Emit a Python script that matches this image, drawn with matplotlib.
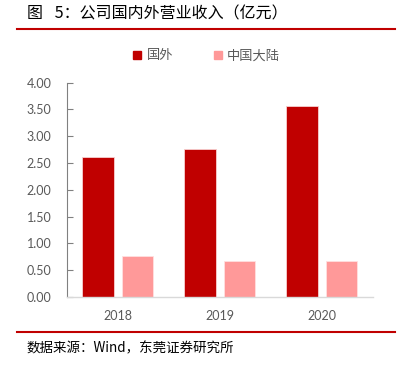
import matplotlib
matplotlib.use("Agg")
import matplotlib.pyplot as plt
import numpy as np
from matplotlib.lines import Line2D

plt.rcParams['font.family'] = ['Noto Sans CJK SC', 'DejaVu Sans']

categories = ["2018", "2019", "2020"]
foreign = [2.61, 2.77, 3.56]
mainland = [0.77, 0.68, 0.68]
series_names = ["国外", "中国大陆"]
yticks = [0.0, 0.5, 1.0, 1.5, 2.0, 2.5, 3.0, 3.5, 4.0]

W, H = 407, 365
fig = plt.figure(figsize=(W / 100, H / 100), dpi=100)

ax_l, ax_r, ax_b, ax_t = 66.7, 372.7, 297, 82.7
ax = fig.add_axes([ax_l / W, 1 - ax_b / H, (ax_r - ax_l) / W, (ax_b - ax_t) / H])

x = np.arange(len(categories))
bw = 0.31
ax.bar(x - 0.195, foreign, bw, color="#C00000", edgecolor="#F8D0D0", linewidth=0.6, label=series_names[0])
ax.bar(x + 0.195, mainland, bw, color="#FF9999", edgecolor="#FFE0E0", linewidth=0.6, label=series_names[1])

ax.set_xlim(-0.5, 2.5)
ax.set_ylim(0, 4.0)
ax.set_yticks(yticks)
ax.set_yticklabels([f"{v:.2f}" for v in yticks], fontfamily="Lato")
ax.set_xticks(x)
ax.set_xticklabels(categories, fontfamily="Lato")

for s in ["top", "right"]:
    ax.spines[s].set_visible(False)
ax.spines["left"].set_color("#808080")
ax.spines["left"].set_linewidth(0.8)
ax.spines["bottom"].set_color("#D9D9D9")
ax.spines["bottom"].set_linewidth(1.0)
ax.tick_params(axis="y", direction="in", length=4, color="#808080", labelsize=9, labelcolor="#595959", pad=11)
ax.tick_params(axis="x", length=0, labelsize=9, labelcolor="#595959", pad=9)

# legend
handles = [Line2D([], [], marker="s", linestyle="none", markersize=6, color="#C00000"),
           Line2D([], [], marker="s", linestyle="none", markersize=6, color="#FF9999")]
fig.legend(handles, series_names, loc="center", bbox_to_anchor=(206 / W, 1 - 56 / H),
           ncol=2, frameon=False, fontsize=9.5, handlelength=0.8, handletextpad=0.3,
           columnspacing=3.0, labelcolor="#595959")

# title and decorations
fig.text(27 / W, 1 - 14 / H, "图\u2002 5：公司国内外营业收入（亿元）", fontsize=11.5, color="#000000",
         va="center", ha="left")
fig.add_artist(Line2D([17 / W, 395 / W], [1 - 29 / H, 1 - 29 / H], color="#C00000", linewidth=1.5))
fig.add_artist(Line2D([17 / W, 395 / W], [1 - 332 / H, 1 - 332 / H], color="#C00000", linewidth=1.5))
fig.text(27 / W, 1 - 348 / H, "数据来源：Wind，东莞证券研究所", fontsize=9.7, color="#000000",
         va="center", ha="left")

fig.savefig("out.png", dpi=100)
